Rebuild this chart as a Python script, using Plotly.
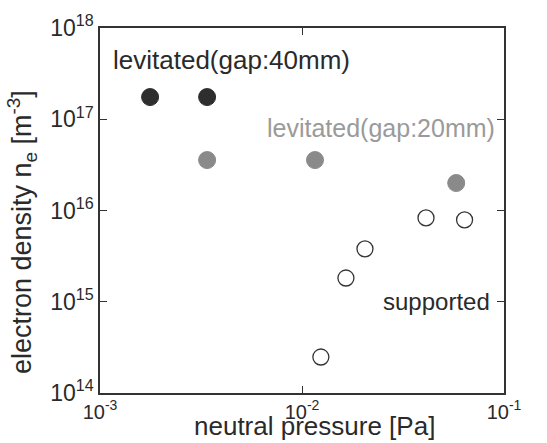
import plotly.graph_objects as go

# data
gap40_p = [1.77e-3, 3.39e-3]
gap40_n = [1.75e17, 1.75e17]
gap20_p = [3.39e-3, 1.16e-2, 5.8e-2]
gap20_n = [3.57e16, 3.57e16, 2.0e16]
sup_p = [1.24e-2, 1.65e-2, 2.05e-2, 4.11e-2, 6.38e-2]
sup_n = [2.48e14, 1.82e15, 3.8e15, 8.3e15, 7.9e15]

x_ticks = [1e-3, 1e-2, 1e-1]
x_text = ["10<sup>-3</sup>", "10<sup>-2</sup>", "10<sup>-1</sup>"]
y_ticks = [1e14, 1e15, 1e16, 1e17, 1e18]
y_text = ["10<sup>14</sup>", "10<sup>15</sup>", "10<sup>16</sup>", "10<sup>17</sup>", "10<sup>18</sup>"]
x_title = "neutral pressure [Pa]"
y_title = "electron density n<sub>e</sub> [m<sup>-3</sup>]"

font = "Liberation Sans, Arial, sans-serif"
ink = "#2a2a2a"
fig = go.Figure()
fig.add_trace(go.Scatter(x=gap40_p, y=gap40_n, mode="markers",
                         marker=dict(size=17, color="#2e2e2e", line=dict(width=1, color="#2e2e2e"))))
fig.add_trace(go.Scatter(x=gap20_p, y=gap20_n, mode="markers",
                         marker=dict(size=17, color="#8a8a8a", line=dict(width=1, color="#8a8a8a"))))
fig.add_trace(go.Scatter(x=sup_p, y=sup_n, mode="markers",
                         marker=dict(size=16, color="white", line=dict(width=1.3, color="#333"))))

axis_common = dict(type="log", showgrid=False, zeroline=False, showline=True, linecolor="#333",
                   linewidth=1.5, mirror="ticks", ticks="inside", ticklen=7, tickcolor="#333",
                   automargin=False)
fig.update_xaxes(range=[-3, -1], tickvals=x_ticks, ticktext=x_text,
                 tickfont=dict(family=font, size=20, color=ink), **axis_common)
fig.update_yaxes(range=[14, 18], tickvals=y_ticks, ticktext=y_text,
                 tickfont=dict(family=font, size=23, color=ink), **axis_common)

# axis titles placed as paper annotations for exact positioning
fig.add_annotation(x=0.532, y=-0.138, xref="paper", yref="paper", text=x_title, showarrow=False,
                   xanchor="center", yanchor="bottom", font=dict(family=font, size=26, color=ink))
fig.add_annotation(x=-0.193, y=0.441, xref="paper", yref="paper", text=y_title, showarrow=False,
                   textangle=-90, xanchor="center", yanchor="middle",
                   font=dict(family=font, size=27, color=ink))

fig.add_annotation(x=-2.945, y=17.65, xref="x", yref="y", text="levitated(gap:40mm)", showarrow=False,
                   xanchor="left", yanchor="middle", font=dict(family=font, size=26, color=ink))
fig.add_annotation(x=-1.035, y=16.9, xref="x", yref="y", text="levitated(gap:20mm)", showarrow=False,
                   xanchor="right", yanchor="middle", font=dict(family=font, size=25, color="#9a9a9a"))
fig.add_annotation(x=-1.059, y=15.0, xref="x", yref="y", text="supported", showarrow=False,
                   xanchor="right", yanchor="middle", font=dict(family=font, size=24, color=ink))

fig.update_layout(width=547, height=443, margin=dict(l=100, r=43, t=28, b=50),
                  paper_bgcolor="white", plot_bgcolor="white", showlegend=False)
fig.write_html("out.html")
